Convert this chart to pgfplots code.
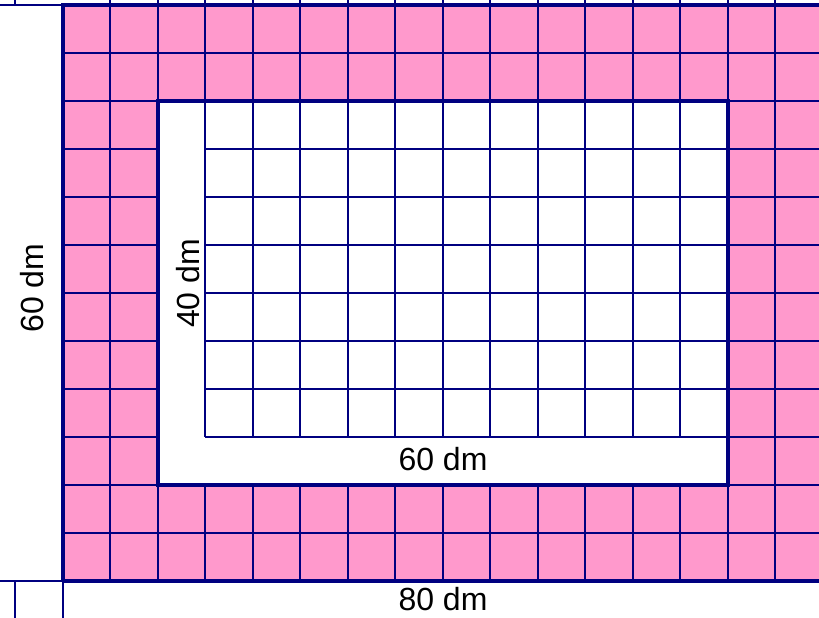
\documentclass[border=0pt]{standalone}
\usepackage{pgfplots}
\pgfplotsset{compat=1.18}
\usepackage{fontspec}
\setmainfont{Liberation Sans}
\definecolor{gridnavy}{RGB}{0,0,128}
\definecolor{pinkfill}{RGB}{255,153,204}
\begin{document}
\begin{tikzpicture}
\begin{axis}[
  width=819pt, height=617pt, scale only axis, hide axis,
  xmin=-1.3263, xmax=15.916, ymin=-0.104, ymax=12.75,
  y dir=reverse, clip=true, unbounded coords=jump,
]
% pink outer area
\addplot[fill=pinkfill, draw=none] coordinates {(0,0) (16.5,0) (16.5,12) (0,12)} -- cycle;
% white inner rectangle
\addplot[fill=white, draw=none] coordinates {(2,2) (14,2) (14,10) (2,10)} -- cycle;
% thin grid lines: verticals
\addplot[gridnavy, line width=2pt] coordinates {
 (1,-0.5) (1,12) (nan,nan)
 (2,-0.5) (2,12) (nan,nan)
 (3,-0.5) (3,9) (nan,nan) (3,10) (3,12) (nan,nan)
 (4,-0.5) (4,9) (nan,nan) (4,10) (4,12) (nan,nan)
 (5,-0.5) (5,9) (nan,nan) (5,10) (5,12) (nan,nan)
 (6,-0.5) (6,9) (nan,nan) (6,10) (6,12) (nan,nan)
 (7,-0.5) (7,9) (nan,nan) (7,10) (7,12) (nan,nan)
 (8,-0.5) (8,9) (nan,nan) (8,10) (8,12) (nan,nan)
 (9,-0.5) (9,9) (nan,nan) (9,10) (9,12) (nan,nan)
 (10,-0.5) (10,9) (nan,nan) (10,10) (10,12) (nan,nan)
 (11,-0.5) (11,9) (nan,nan) (11,10) (11,12) (nan,nan)
 (12,-0.5) (12,9) (nan,nan) (12,10) (12,12) (nan,nan)
 (13,-0.5) (13,9) (nan,nan) (13,10) (13,12) (nan,nan)
 (14,-0.5) (14,12) (nan,nan)
 (15,-0.5) (15,12) (nan,nan)
 (-1,-0.5) (-1,0) (nan,nan)
 (-1,12) (-1,13) (nan,nan)
 (0,12) (0,13)
};
% thin grid lines: horizontals
\addplot[gridnavy, line width=2pt] coordinates {
 (0,1) (16.5,1) (nan,nan)
 (0,2) (16.5,2) (nan,nan)
 (0,3) (2,3) (nan,nan) (3,3) (16.5,3) (nan,nan)
 (0,4) (2,4) (nan,nan) (3,4) (16.5,4) (nan,nan)
 (0,5) (2,5) (nan,nan) (3,5) (16.5,5) (nan,nan)
 (0,6) (2,6) (nan,nan) (3,6) (16.5,6) (nan,nan)
 (0,7) (2,7) (nan,nan) (3,7) (16.5,7) (nan,nan)
 (0,8) (2,8) (nan,nan) (3,8) (16.5,8) (nan,nan)
 (0,9) (2,9) (nan,nan) (3,9) (16.5,9) (nan,nan)
 (0,10) (16.5,10) (nan,nan)
 (0,11) (16.5,11) (nan,nan)
 (-2,0) (0,0) (nan,nan)
 (-2,12) (0,12)
};
% thick borders
\addplot[gridnavy, line width=3.6pt] coordinates {(0,12) (0,0) (16.5,0) (nan,nan) (0,12) (16.5,12)};
\addplot[gridnavy, line width=4pt] coordinates {(2,2) (14,2) (14,10) (2,10)} -- cycle;
% labels
\node[font=\fontsize{32}{38}\selectfont, anchor=center] at (axis cs:8,9.45) {60 dm};
\node[font=\fontsize{32}{38}\selectfont, anchor=center] at (axis cs:8,12.38) {80 dm};
\node[font=\fontsize{32}{38}\selectfont, anchor=center, rotate=90] at (axis cs:-0.66,5.9) {60 dm};
\node[font=\fontsize{32}{38}\selectfont, anchor=center, rotate=90] at (axis cs:2.63,5.8) {40 dm};
\end{axis}
\end{tikzpicture}
\end{document}
